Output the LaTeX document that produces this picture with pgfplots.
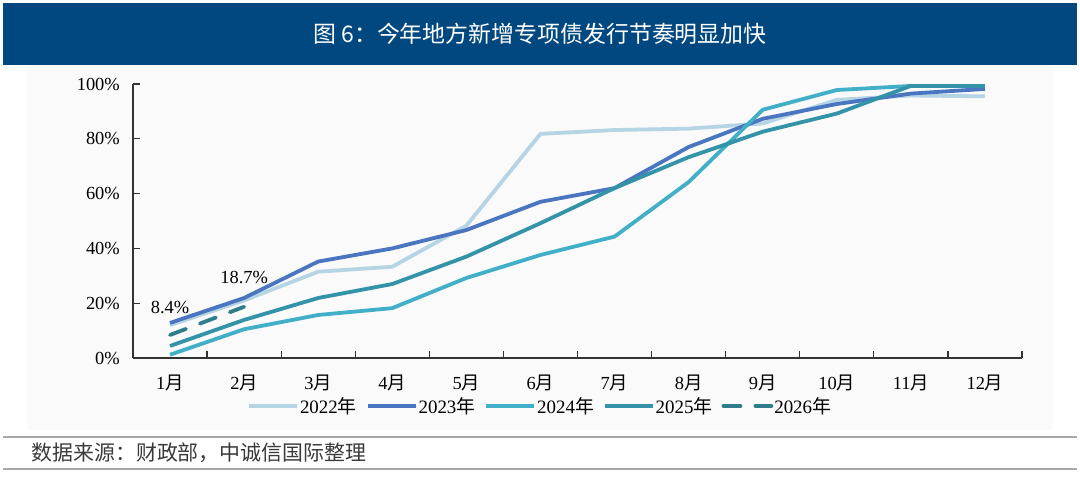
\documentclass[border=0pt]{standalone}
\usepackage{fontspec}
\setmainfont{Liberation Serif}
\newfontfamily\cjk{Noto Sans CJK SC}
\usepackage{pgfplots}
\pgfplotsset{compat=1.18}

\definecolor{titleblue}{HTML}{00487F}
\definecolor{panelgray}{HTML}{FAFAFA}
\definecolor{rulegray}{HTML}{A8A8A8}
\definecolor{srcgray}{HTML}{3A3A3A}
\definecolor{axisgray}{HTML}{333333}
\definecolor{c22}{HTML}{B5D5E5}
\definecolor{c23}{HTML}{4A75C1}
\definecolor{c24}{HTML}{42AFC9}
\definecolor{c25}{HTML}{3393A8}
\definecolor{c26}{HTML}{2E7D8C}

\newcommand{\yue}{{\cjk 月}}
\newcommand{\nian}{{\cjk 年}}

\begin{document}
\begin{tikzpicture}
% frame, title bar and source line
\path[use as bounding box] (0bp,0bp) rectangle (1080bp,479bp);
\fill[white] (0bp,0bp) rectangle (1080bp,479bp);
\fill[panelgray] (27bp,49bp) rectangle (1053bp,414bp);
\fill[titleblue] (3bp,414bp) rectangle (1077bp,476bp);
\node[text=white, font=\cjk\fontsize{23}{26}\selectfont] at (540bp,445bp)
  {图 6：今年地方新增专项债发行节奏明显加快};
\draw[rulegray, line width=1.2bp] (3bp,42bp) -- (1077bp,42bp);
\draw[rulegray, line width=1.2bp] (3bp,10bp) -- (1077bp,10bp);
\node[anchor=west, text=srcgray, font=\cjk\fontsize{21}{24}\selectfont] at (28bp,26bp)
  {数据来源：财政部，中诚信国际整理};

\begin{axis}[
    at={(133bp,121bp)}, anchor=south west,
    scale only axis, width=889bp, height=274bp,
    xmin=0.5, xmax=12.5, ymin=0, ymax=100,
    axis x line*=bottom, axis y line*=left,
    axis line style={line width=1.2bp, color=axisgray},
    tick style={line width=1.2bp, color=axisgray},
    tick align=inside, major tick length=7bp,
    xtick={0.5,1.5,2.5,3.5,4.5,5.5,6.5,7.5,8.5,9.5,10.5,11.5,12.5},
    x tick label as interval,
    xticklabels={1\yue,2\yue,3\yue,4\yue,5\yue,6\yue,7\yue,8\yue,9\yue,10\yue,11\yue,12\yue},
    ytick={0,20,40,60,80,100},
    yticklabels={0\%,20\%,40\%,60\%,80\%,100\%},
    tick label style={font=\fontsize{18.5}{20}\selectfont, text=black},
    xticklabel style={anchor=center, yshift=-25bp},
    yticklabel style={anchor=east, inner sep=0pt, xshift=-13bp},
    legend columns=5,
    legend style={at={(0.458,-0.175)}, anchor=center, draw=none, fill=none,
      font=\fontsize{19}{20}\selectfont,
      /tikz/every odd column/.append style={column sep=-1bp},
      /tikz/every even column/.append style={column sep=7bp}},
    legend image code/.code={\draw[#1] (0bp,0bp) -- (48bp,0bp);},
    every axis plot/.append style={line width=3.8bp, line join=round},
]
\addplot[c22] coordinates {(1,12.0)(2,21.0)(3,31.5)(4,33.3)(5,48.3)(6,81.8)(7,83.2)(8,83.7)(9,85.6)(10,94.2)(11,95.8)(12,95.5)};
\addlegendentry{2022\nian}
\addplot[c23] coordinates {(1,12.8)(2,21.9)(3,35.2)(4,40.0)(5,46.7)(6,57.0)(7,62.0)(8,77.0)(9,87.3)(10,92.7)(11,96.5)(12,98.2)};
\addlegendentry{2023\nian}
\addplot[c24] coordinates {(1,1.2)(2,10.5)(3,15.7)(4,18.2)(5,29.2)(6,37.6)(7,44.3)(8,64.2)(9,90.6)(10,97.8)(11,99.3)(12,99.3)};
\addlegendentry{2024\nian}
\addplot[c25] coordinates {(1,4.4)(2,13.9)(3,21.9)(4,27.0)(5,37.0)(6,49.2)(7,62.0)(8,73.3)(9,82.6)(10,89.2)(11,99.3)(12,99.3)};
\addlegendentry{2025\nian}
\addplot[c26, line cap=round, dash pattern=on 17bp off 15bp] coordinates {(1,8.4)(2,18.7)};
\addlegendentry{2026\nian}

\node[font=\fontsize{18.5}{20}\selectfont] at (axis cs:1,18.6) {8.4\%};
\node[font=\fontsize{18.5}{20}\selectfont] at (axis cs:2,29.2) {18.7\%};
\end{axis}
\end{tikzpicture}
\end{document}
